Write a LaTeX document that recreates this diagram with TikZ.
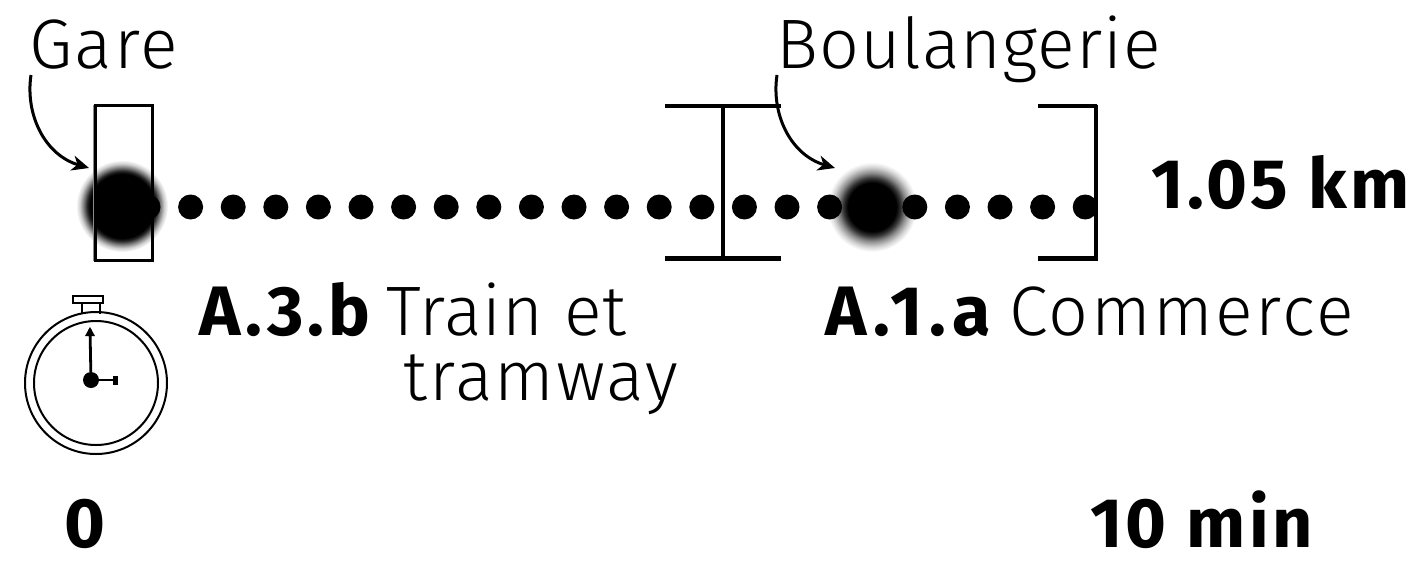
\documentclass[tikz,border=0pt]{standalone}
\usepackage{fontspec}
\setmainfont{Fira Sans}[UprightFont=* Light,BoldFont=* Bold,LetterSpace=3]
\newcommand{\spc}[1]{\addfontfeature{LetterSpace=#1}}
\usetikzlibrary{arrows.meta}
\pgfdeclareradialshading{bigshade}{\pgfpoint{0bp}{0bp}}{color(0bp)=(black);color(17.5bp)=(black);color(19bp)=(black!85);color(21bp)=(black!50);color(23bp)=(black!18);color(24.5bp)=(black!5);color(25bp)=(white)}
\pgfdeclareradialshading{smallshade}{\pgfpoint{0bp}{0bp}}{color(0bp)=(black);color(13.5bp)=(black);color(16bp)=(black!80);color(19bp)=(black!45);color(22bp)=(black!18);color(24bp)=(black!5);color(25bp)=(white)}
\tikzset{
  x=1pt,y=-1pt,
  lbl/.style={anchor=base west,inner sep=0pt,font=\fontsize{70}{70}\selectfont},
  blbl/.style={anchor=base west,inner sep=0pt,font=\fontsize{70}{70}\selectfont\bfseries},
  walk/.style={circle,fill=black,inner sep=0pt,minimum size=25pt},
  blob/.style={circle,inner sep=0pt},
  pointer/.style={draw=black,line width=3pt,-{Stealth[length=17pt,width=15pt,inset=5pt]}},
  frameline/.style={draw=black,line width=3.5pt},
  heavyline/.style={draw=black,line width=5pt},
  watch/.style={draw=black,line width=2pt,fill=none}
}
\begin{document}
\begin{tikzpicture}
\useasboundingbox (0,0) rectangle (1418,576);
% blobs
\node[blob,shading=bigshade,minimum size=92pt] (gareblob) at (122,206) {};
\node[blob,shading=smallshade,minimum size=90pt] (boulblob) at (872,207) {};
% walk dots
\foreach \i in {0,...,22}{
  \node[walk] (d\i) at ({148+42.6*\i},207) {};
}
% station rectangle
\draw[draw=black!45,line width=2pt] (93.5,105) -- (93.5,260.5);
\node[draw=black,line width=3.5pt,inner sep=0pt,minimum width=57pt,minimum height=155pt] (garebox) at (124,183) {};
% I-shaped frame
\coordinate (ita) at (665,106); \coordinate (itb) at (781,106);
\coordinate (ibl) at (665,258); \coordinate (ibr) at (781,258);
\coordinate (itm) at (723,106); \coordinate (ibm) at (723,258);
\draw[frameline] (ita) -- (itb);
\draw[heavyline] (ibl) -- (ibr);
\draw[line width=4pt] (itm) -- (ibm);
% right bracket
\coordinate (rta) at (1038,106); \coordinate (rtb) at (1097,106);
\coordinate (rba) at (1038,258); \coordinate (rbb) at (1097,258);
\draw[frameline] (rta) -- (rtb);
\draw[heavyline] (rba) -- (rbb);
\draw[line width=4.5pt] (1096,104.5) -- (1096,260.5);
% labels
\node[lbl] (gare) at (29,68) {Gare};
\node[lbl] (boul) at (776,68) {\spc{1.4}Boulangerie};
\node[blbl] (dist) at (1151,208) {\spc{5}1.05 km};
\node[blbl] (a3) at (199,335) {\spc{6}A.3.b};
\node[lbl] (train) at (386,335) {\spc{1.4}Train et};
\node[lbl] (tram) at (403,400) {tramway};
\node[blbl] (a1) at (825,335) {\spc{9.5}A.1.a};
\node[lbl] (comm) at (1009,335) {\spc{3.6}Commerce};
\node[blbl] (zero) at (64,547) {0};
\node[blbl] (ten) at (1090,547) {\spc{4.8}10 min};
% pointers
\coordinate (gs) at (31,75); \coordinate (ge) at (89,168);
\coordinate (bs) at (777,75); \coordinate (be) at (835,168);
\draw[pointer] (gs) .. controls (25,115) and (45,155) .. (ge);
\draw[pointer] (bs) .. controls (771,115) and (791,155) .. (be);
% stopwatch
\node[circle,watch,minimum size=142pt,inner sep=0pt] (outer) at (96,383) {};
\node[circle,watch,minimum size=124pt,inner sep=0pt] (inner) at (96,383) {};
\node[draw=black,line width=2.2pt,inner sep=0pt,minimum width=30pt,minimum height=7pt] (crown) at (88,299.5) {};
\draw[line width=2.2pt] (82,302) -- (82,314) (100,302) -- (100,314);
\node[circle,fill=black,inner sep=0pt,minimum size=16pt] (hub) at (91,380) {};
\coordinate (hup) at (90,329); \coordinate (hright) at (116,380);
\draw[line width=2.8pt] (hub) -- (hup);
\draw[line width=2.8pt] (hub) -- (hright);
\fill (90,327) -- (85,336) -- (95,336) -- cycle;
\fill (113,376) rectangle (118,384.5);
\end{tikzpicture}
\end{document}
